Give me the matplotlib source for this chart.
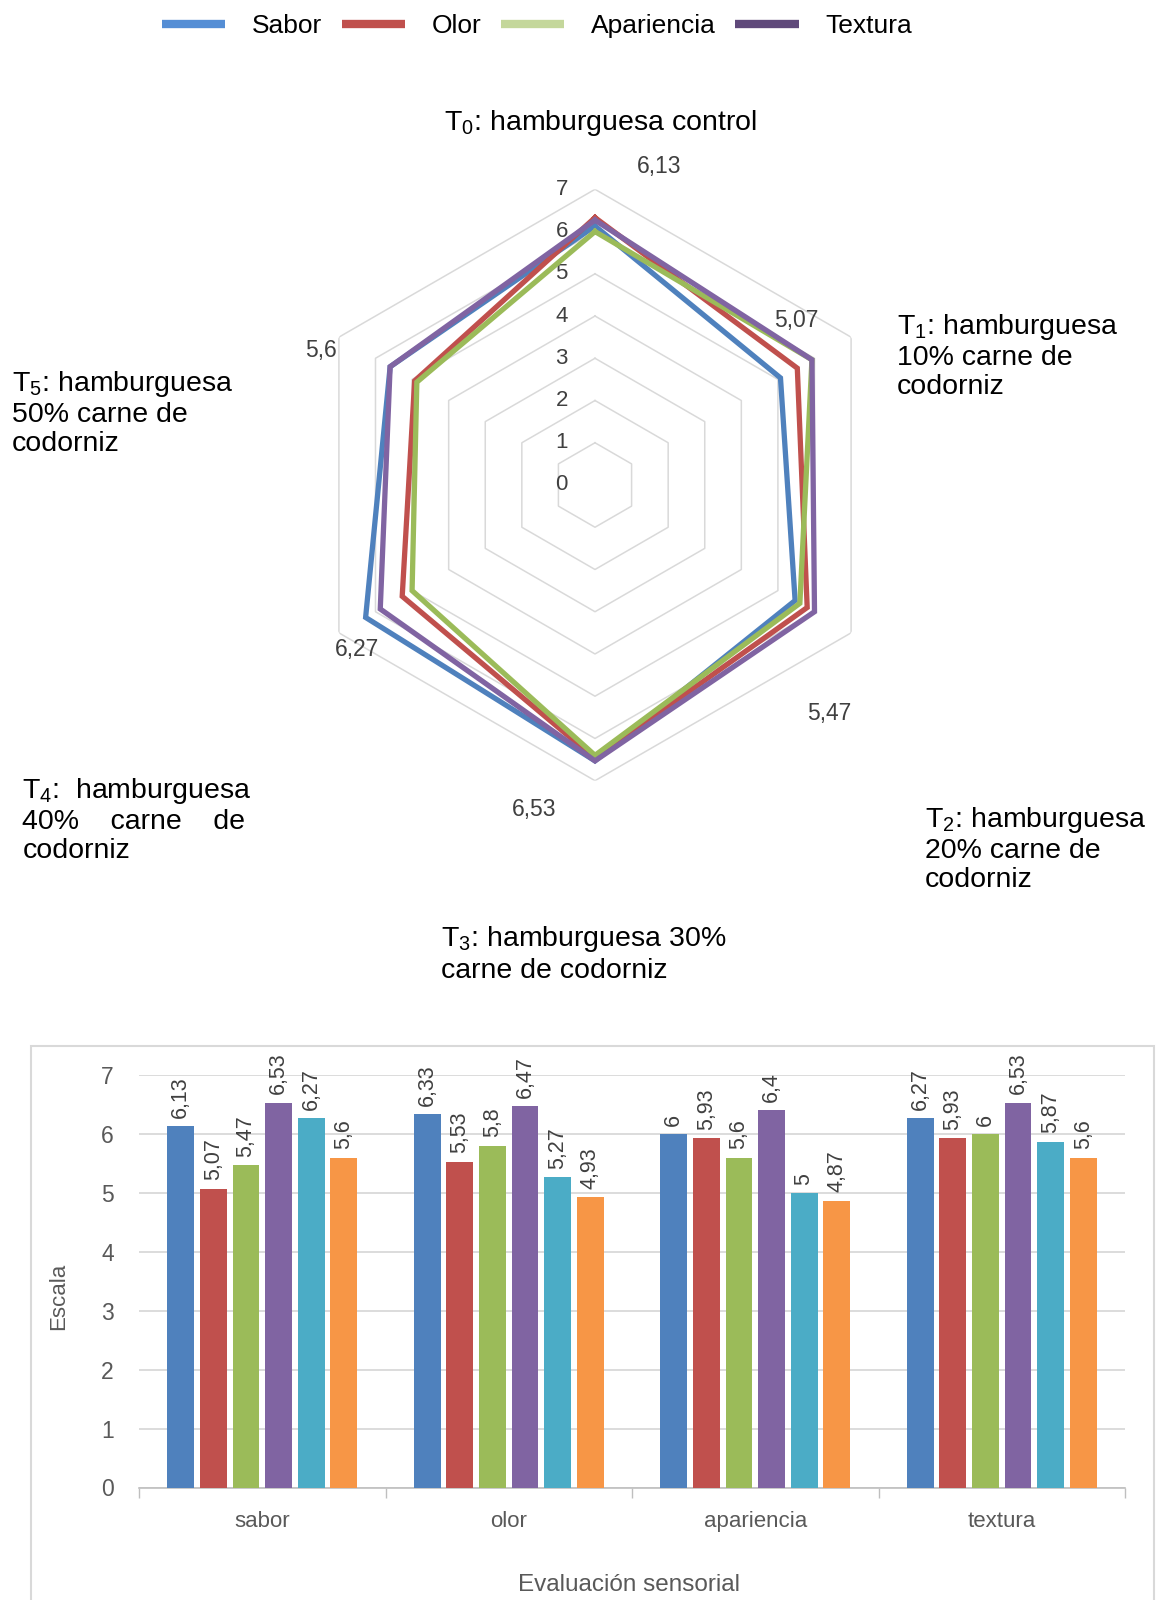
import numpy as np
import matplotlib
matplotlib.use("Agg")
import matplotlib.pyplot as plt
from matplotlib.lines import Line2D
from matplotlib.patches import Rectangle

plt.rcParams['font.family'] = ['Liberation Sans', 'DejaVu Sans']
plt.rcParams['mathtext.fontset'] = 'custom'
plt.rcParams['mathtext.rm'] = 'Liberation Sans'
plt.rcParams['mathtext.it'] = 'Liberation Sans:italic'
plt.rcParams['mathtext.bf'] = 'Liberation Sans:bold'

# ---- data ----
treatments = ['T$_0$', 'T$_1$', 'T$_2$', 'T$_3$', 'T$_4$', 'T$_5$']
attributes = ['sabor', 'olor', 'apariencia', 'textura']
series_names = ['Sabor', 'Olor', 'Apariencia', 'Textura']

sabor = [6.13, 5.07, 5.47, 6.53, 6.27, 5.6]
olor = [6.33, 5.53, 5.8, 6.47, 5.27, 4.93]
apariencia = [6.0, 5.93, 5.6, 6.4, 5.0, 4.87]
textura = [6.27, 5.93, 6.0, 6.53, 5.87, 5.6]

radar_ticks = [0, 1, 2, 3, 4, 5, 6, 7]
bar_ticks = [0, 1, 2, 3, 4, 5, 6, 7]

radar_colors = ['#4f81bd', '#c0504d', '#9bbb59', '#8064a2']
legend_colors = ['#558ed5', '#c0504d', '#c4d79b', '#5f497a']
bar_colors = ['#4f81bd', '#c0504d', '#9bbb59', '#8064a2', '#4bacc6', '#f79646']

W, H = 1159, 1600
fig = plt.figure(figsize=(W / 100, H / 100), dpi=100)


def fx(px):
    return px / W


def fy(py):
    return 1 - py / H


# ---- radar chart ----
cx, cy, R = 595, 485, 295.7
rax = fig.add_axes([fx(cx - R), fy(cy + R), 2 * R / W, 2 * R / H], projection='polar')
rax.set_theta_zero_location('N')
rax.set_theta_direction(-1)
rax.set_ylim(0, 7)
rax.set_axis_off()

n = len(treatments)
angles = np.linspace(0, 2 * np.pi, n, endpoint=False)
closed = np.append(angles, angles[0])

for r in radar_ticks[1:]:
    rax.plot(closed, [r] * (n + 1), color='#d9d9d9', lw=1.1, zorder=1)

for r in radar_ticks:
    rax.annotate(str(r), xy=(0, r), xytext=(-24, 0), textcoords='offset points',
                 ha='center', va='center', fontsize=16, color='#404040', zorder=2)

radar_series = [sabor, olor, apariencia, textura]
for vals, col in zip(radar_series, radar_colors):
    rax.plot(closed, vals + vals[:1], color=col, lw=3.8, zorder=3,
             solid_joinstyle='miter')

# value labels for the Sabor series
label_offsets = [(46, 43), (11.5, 41), (24.5, -81), (-44, -35), (-6, -23), (-50, 12)]
for ang, v, off in zip(angles, sabor, label_offsets):
    rax.annotate(f'{v:g}'.replace('.', ','), xy=(ang, v), xytext=off,
                 textcoords='offset points', ha='center', va='center',
                 fontsize=16.5, color='#404040', annotation_clip=False)

# treatment labels
cat_fs = 20.5
fig.text(fx(601), fy(123.5), 'T$_0$: hamburguesa control', ha='center', va='center',
         fontsize=cat_fs)
fig.text(fx(897), fy(356), 'T$_1$: hamburguesa\n10% carne de\ncodorniz', ha='left',
         va='center', fontsize=cat_fs, linespacing=1.17)
fig.text(fx(925), fy(849), 'T$_2$: hamburguesa\n20% carne de\ncodorniz', ha='left',
         va='center', fontsize=cat_fs, linespacing=1.17)
fig.text(fx(441), fy(954), 'T$_3$: hamburguesa 30%\ncarne de codorniz', ha='left',
         va='center', fontsize=cat_fs, linespacing=1.17)
fig.text(fx(22.5), fy(820), 'T$_4$:  hamburguesa\n40%    carne    de\ncodorniz', ha='left',
         va='center', fontsize=cat_fs, linespacing=1.17)
fig.text(fx(12), fy(413), 'T$_5$: hamburguesa\n50% carne de\ncodorniz', ha='left',
         va='center', fontsize=cat_fs, linespacing=1.17)

# legend
handles = [Line2D([], [], color=c, lw=6, solid_capstyle='butt') for c in legend_colors]
fig.legend(handles, series_names, loc='center', bbox_to_anchor=(fx(537), fy(26)),
           ncol=4, frameon=False, fontsize=19, handlelength=2.4, handletextpad=1.0,
           columnspacing=0.75, borderpad=0)

# ---- bar chart ----
bax = fig.add_axes([fx(139), fy(1487.5), (1125 - 139) / W, (1487.5 - 1075) / H])
data = [sabor, olor, apariencia, textura]  # per attribute: T0..T5
x = np.arange(len(attributes))
step, width = 0.1323, 0.109
for i in range(len(treatments)):
    vals = [data[j][i] for j in range(len(attributes))]
    pos = x + (i - 2.5) * step
    bax.bar(pos, vals, width=width, color=bar_colors[i], zorder=3)
    for p, v in zip(pos, vals):
        bax.annotate(f'{v:g}'.replace('.', ','), xy=(p, v), xytext=(0, 6),
                     textcoords='offset points', rotation=90, ha='center', va='bottom',
                     fontsize=15.5, color='#404040')

bax.set_xlim(-0.5, len(attributes) - 0.5)
bax.set_ylim(0, 7)
bax.set_yticks(bar_ticks)
bax.set_xticks(x)
bax.set_xticklabels(attributes)
bax.set_xticks(np.arange(-0.5, len(attributes)), minor=True)
bax.tick_params(axis='x', which='major', length=0, pad=17, labelsize=16, labelcolor='#595959')
bax.tick_params(axis='x', which='minor', length=7, color='#bfbfbf', width=1)
bax.tick_params(axis='y', length=0, pad=18, labelsize=16.5, labelcolor='#595959')
for s in ['left', 'top', 'right']:
    bax.spines[s].set_visible(False)
bax.spines['bottom'].set_color('#bfbfbf')
bax.spines['bottom'].set_linewidth(1.2)
bax.yaxis.grid(True, color='#d9d9d9', lw=1.3, zorder=0)
bax.set_axisbelow(True)

fig.text(fx(629.5), fy(1585), 'Evaluación sensorial', ha='center', va='center',
         fontsize=17.5, color='#595959')
fig.text(fx(59), fy(1296), 'Escala', ha='center', va='center', rotation=90,
         fontsize=16, color='#595959')

# chart frame
fig.patches.append(Rectangle((fx(30.6), -0.01), (1154 - 30.6) / W, fy(1046) + 0.01,
                             transform=fig.transFigure, fill=False, ec='#d9d9d9', lw=1.5))

fig.savefig('out.png', dpi=100)
